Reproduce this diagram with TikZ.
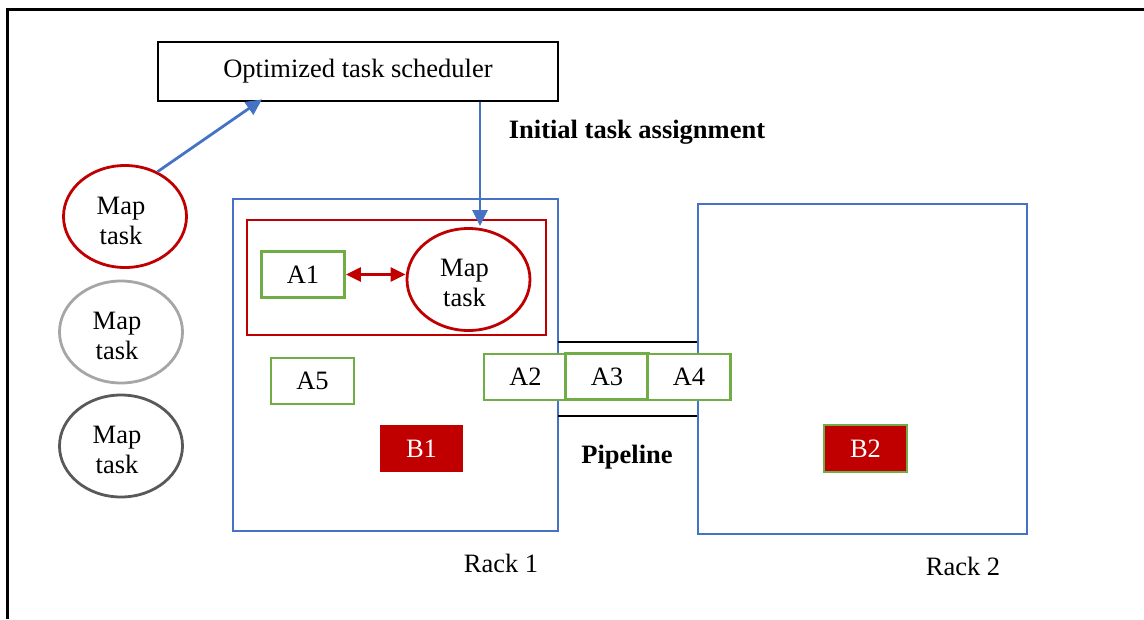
\documentclass[tikz,border=0pt]{standalone}
\usepackage{fontspec}
\setmainfont{Liberation Serif}
\usetikzlibrary{shapes.geometric,arrows.meta}
\definecolor{rackblue}{HTML}{4472C4}
\definecolor{taskred}{HTML}{C00000}
\definecolor{blockgreen}{HTML}{70AD47}
\definecolor{midgray}{HTML}{A6A6A6}
\definecolor{darkgray}{HTML}{595959}
\tikzset{
  base/.style={font=\fontsize{26.5}{30}\selectfont, inner sep=0pt},
  rack/.style={draw=rackblue, line width=2.8pt, minimum width=325pt, minimum height=332pt},
  block/.style={base, draw=blockgreen, fill=white, line width=2.8pt, minimum width=83pt, minimum height=46pt},
  redblock/.style={base, fill=taskred, text=white, minimum width=83pt, minimum height=47pt},
  maptask/.style={base, ellipse, draw, line width=2.8pt, minimum width=123pt, minimum height=102pt},
  tasktext/.style={base, align=center},
  bluearrow/.style={draw=rackblue, line width=2.8pt, -{Triangle[length=16pt,width=15pt]}},
  redarrow/.style={draw=taskred, line width=2.8pt, {Triangle[length=15pt,width=14pt]}-{Triangle[length=15pt,width=14pt]}},
}
\begin{document}
\begin{tikzpicture}[x=1pt,y=-1pt]
\useasboundingbox (0,0) rectangle (1144,619);

% outer frame (top and left edges)
\draw[line width=3pt] (7,619) -- (7,9) -- (1144,9);

% scheduler
\node[base, draw, line width=2.8pt, minimum width=400pt, minimum height=59pt] (sched) at (358,71.5) {Optimized task scheduler};
\node[base, font=\fontsize{26.5}{30}\selectfont\bfseries] (assign) at (637,132) {Initial task assignment};

% waiting map tasks
\node[maptask, draw=taskred] (mt1) at (125,216.5) {};
\node[maptask, draw=midgray] (mt2) at (121,332) {};
\node[maptask, draw=darkgray] (mt3) at (121,446) {};
\node[tasktext] (mt1t) at ([shift={(-4,4)}]mt1.center) {Map\\task};
\node[tasktext] (mt2t) at ([shift={(-4,4)}]mt2.center) {Map\\task};
\node[tasktext] (mt3t) at ([shift={(-4,4)}]mt3.center) {Map\\task};

% racks
\node[rack] (rack1) at (395.5,365) {};
\node[rack, minimum width=329pt, minimum height=330pt] (rack2) at (862.5,369) {};
\node[base] (r1label) at (501,563) {Rack 1};
\node[base] (r2label) at (963,566) {Rack 2};

% local task group in rack 1
\node[draw=taskred, line width=2.8pt, minimum width=299pt, minimum height=115pt, inner sep=0pt] (group) at (396.5,277.5) {};
\node[block] (a1) at (303,274.5) {A1};
\node[maptask, draw=taskred] (mt) at (468.5,279.5) {};
\node[tasktext] (mtt) at ([shift={(-4,3)}]mt.center) {Map\\task};
\node[block] (a5) at (312.5,381) {A5};
\node[redblock] (b1) at (421.5,448.5) {B1};

% pipeline between racks
\coordinate (p1) at (558,342);
\coordinate (p2) at (558,416);
\draw[line width=2pt] (p1) -- (p1 -| rack2.west);
\draw[line width=2pt] (p2) -- (p2 -| rack2.west);
\node[block] (a2) at (525.5,377) {A2};
\node[block] (a3) at (607,376.5) {A3};
\node[block] (a4) at (689,377) {A4};
\node[base, font=\fontsize{26.5}{30}\selectfont\bfseries] (pipe) at (627,457) {Pipeline};

% block in rack 2
\node[redblock, draw=blockgreen, line width=2.8pt] (b2) at (865.5,448.5) {B2};

% connectors
\coordinate (drop) at ([xshift=122pt]sched.south);
\draw[bluearrow] (mt1.54) -- ([xshift=-96pt,yshift=3pt]sched.south);
\draw[bluearrow] (drop) -- ([yshift=1pt]drop |- mt.north);
\draw[redarrow] (a1.east) -- (mt.west |- a1.east);
\end{tikzpicture}
\end{document}
